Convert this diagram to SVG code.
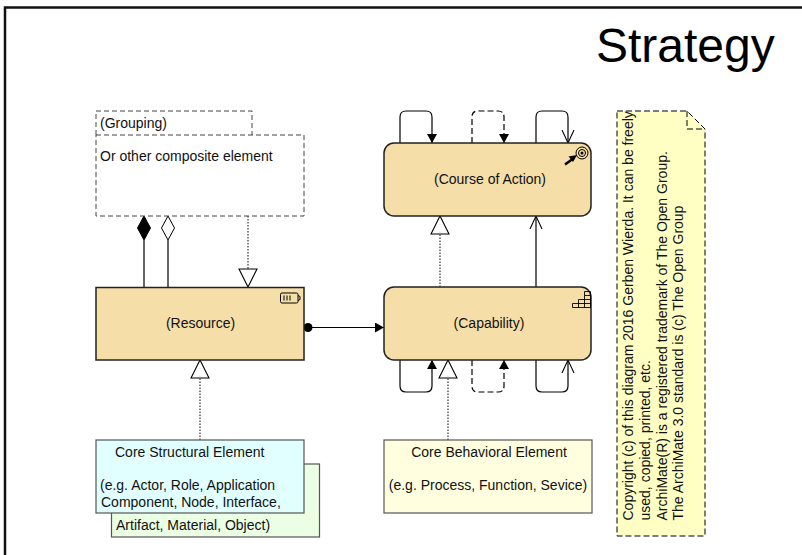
<svg xmlns="http://www.w3.org/2000/svg" width="802" height="555" viewBox="0 0 802 555">
<style>
text{font-family:"Liberation Sans",Arial,sans-serif;font-size:14px;fill:#111}
.core{fill:#f5dea8;stroke:#222;stroke-width:1.5}
.ln{fill:none;stroke:#000;stroke-width:1.2}
.dash{stroke-dasharray:6 3}
.dot{fill:none;stroke:#333;stroke-width:1.2;stroke-dasharray:1.5 1.5}
.box{stroke:#555;stroke-width:1.2}
.dashbox{fill:#fff;stroke:#444;stroke-width:1;stroke-dasharray:5 3}
</style>
<defs>
<marker id="fill" markerUnits="userSpaceOnUse" markerWidth="10" markerHeight="12" refX="9" refY="5" orient="auto"><path d="M0 0L9 5L0 10Z" fill="#000"/></marker>
<marker id="open" markerUnits="userSpaceOnUse" markerWidth="15" markerHeight="16" refX="13" refY="7" orient="auto"><path d="M0 1L13 7L0 13" fill="none" stroke="#000" stroke-width="1.1"/></marker>
<marker id="tri" markerUnits="userSpaceOnUse" markerWidth="20" markerHeight="22" refX="19" refY="10" orient="auto"><path d="M1 1L19 10L1 19Z" fill="#fff" stroke="#000" stroke-width="1.1"/></marker>
</defs>
<rect x="5" y="7.500" width="803" height="554" fill="#fff" stroke="#111" stroke-width="2.500"/>
<text id="title" x="596" y="62" style="font-size:48px;fill:#000">Strategy</text>
<g id="connectors">
<path class="ln" d="M400 143V117Q400 111 406 111H426Q432 111 432 117V143" marker-end="url(#fill)"/>
<path class="ln dash" d="M472 143V117Q472 111 478 111H498Q504 111 504 117V143" marker-end="url(#fill)"/>
<path class="ln" d="M536 143V117Q536 111 542 111H562Q568 111 568 117V143" marker-end="url(#open)"/>
<path class="ln" d="M400 360V386Q400 392 406 392H426Q432 392 432 386V360" marker-end="url(#fill)"/>
<path class="ln dash" d="M472 360V386Q472 392 478 392H498Q504 392 504 386V360" marker-end="url(#fill)"/>
<path class="ln" d="M536 360V386Q536 392 542 392H562Q568 392 568 386V360" marker-end="url(#open)"/>
<path class="dot" d="M440 287V216" marker-end="url(#tri)"/>
<path class="ln" d="M536 287V216" marker-end="url(#open)"/>
<path class="ln" d="M308 327.500H384" marker-end="url(#fill)"/>
<circle cx="308" cy="327.500" r="4.500" fill="#000"/>
<path class="dot" d="M248 216V287" marker-end="url(#tri)"/>
<path class="dot" d="M200 440V360" marker-end="url(#tri)"/>
<path class="dot" d="M448 440V360" marker-end="url(#tri)"/>
<path class="ln" d="M144 287V240"/>
<path d="M144 216L150.500 228L144 240L137.500 228Z" fill="#000" stroke="#000"/>
<path class="ln" d="M168 287V240"/>
<path d="M168 216L174.500 228L168 240L161.500 228Z" fill="#fff" stroke="#000"/>
</g>
<g id="grouping">
<path class="dashbox" d="M96 135V111H252V135"/>
<rect class="dashbox" x="96" y="135" width="208" height="81"/>
<text x="100" y="128">(Grouping)</text>
<text x="100" y="161">Or other composite element</text>
</g>
<g id="course-of-action">
<rect class="core" x="384" y="143" width="207" height="73" rx="10"/>
<text x="490" y="184" text-anchor="middle">(Course of Action)</text>
<circle cx="582" cy="153" r="6" fill="none" stroke="#000"/>
<circle cx="582" cy="153" r="3.500" fill="none" stroke="#000"/>
<circle cx="582" cy="153" r="1.500" fill="#000"/>
<path d="M565 164.500L574 158" stroke="#000" stroke-width="2.500" fill="none"/>
<path d="M577 155L568.500 156.500L573 162Z" fill="#000"/>
</g>
<g id="capability">
<rect class="core" x="384" y="287" width="207" height="73" rx="10"/>
<text x="489" y="328" text-anchor="middle">(Capability)</text>
<path d="M572.500 307.500H590.500M572.500 303.500H590.500M578.500 299.500H590.500M584.500 295.500H590.500M572.500 307.500V303.500M578.500 307.500V299.500M584.500 307.500V295.500M590.500 307.500V291.500" fill="none" stroke="#000" stroke-width=".9"/>
<path d="M584.500 295.500V291.500H590.500" fill="none" stroke="#000" stroke-width=".9"/>
</g>
<g id="resource">
<rect class="core" x="96" y="287.500" width="208" height="72.500"/>
<text x="200.500" y="328" text-anchor="middle">(Resource)</text>
<rect x="280.500" y="293" width="17.500" height="10" rx="1.500" fill="none" stroke="#000"/>
<path d="M298 295.500L300 296.500V299.500L298 300.500" fill="none" stroke="#000"/>
<path d="M284 295.500V300.500M287 295.500V300.500M290 295.500V300.500" stroke="#000"/>
</g>
<g id="core-structural">
<rect class="box" x="111.500" y="464" width="208" height="73" fill="#eaffe4"/>
<rect class="box" x="96" y="440" width="208" height="73" fill="#e2ffff"/>
<text x="115" y="457">Core Structural Element</text>
<text x="100" y="490">(e.g. Actor, Role, Application</text>
<text x="101" y="507">Component, Node, Interface,</text>
<text x="116" y="530">Artifact, Material, Object)</text>
</g>
<g id="core-behavioral">
<rect class="box" x="384" y="440" width="208" height="73" fill="#ffffe0"/>
<text x="489" y="457" text-anchor="middle">Core Behavioral Element</text>
<text x="488" y="490" text-anchor="middle">(e.g. Process, Function, Sevice)</text>
</g>
<g id="note">
<path d="M617 111H687L705 129V536H617Z" fill="#ffffc4" stroke="#000" stroke-width="1" stroke-dasharray="6 3"/>
<path d="M687 111V129H705" fill="none" stroke="#000" stroke-width="1" stroke-dasharray="6 3"/>
<text transform="translate(633,520.500) rotate(-90)">Copyright (c) of this diagram 2016 Gerben Wierda. It can be freely</text>
<text transform="translate(650,520.500) rotate(-90)">used, copied, printed, etc.</text>
<text transform="translate(667,520.500) rotate(-90)">ArchiMate(R) is a registered trademark of The Open Group.</text>
<text transform="translate(683,520.500) rotate(-90)">The ArchiMate 3.0 standard is (c) The Open Group</text>
</g>
</svg>
